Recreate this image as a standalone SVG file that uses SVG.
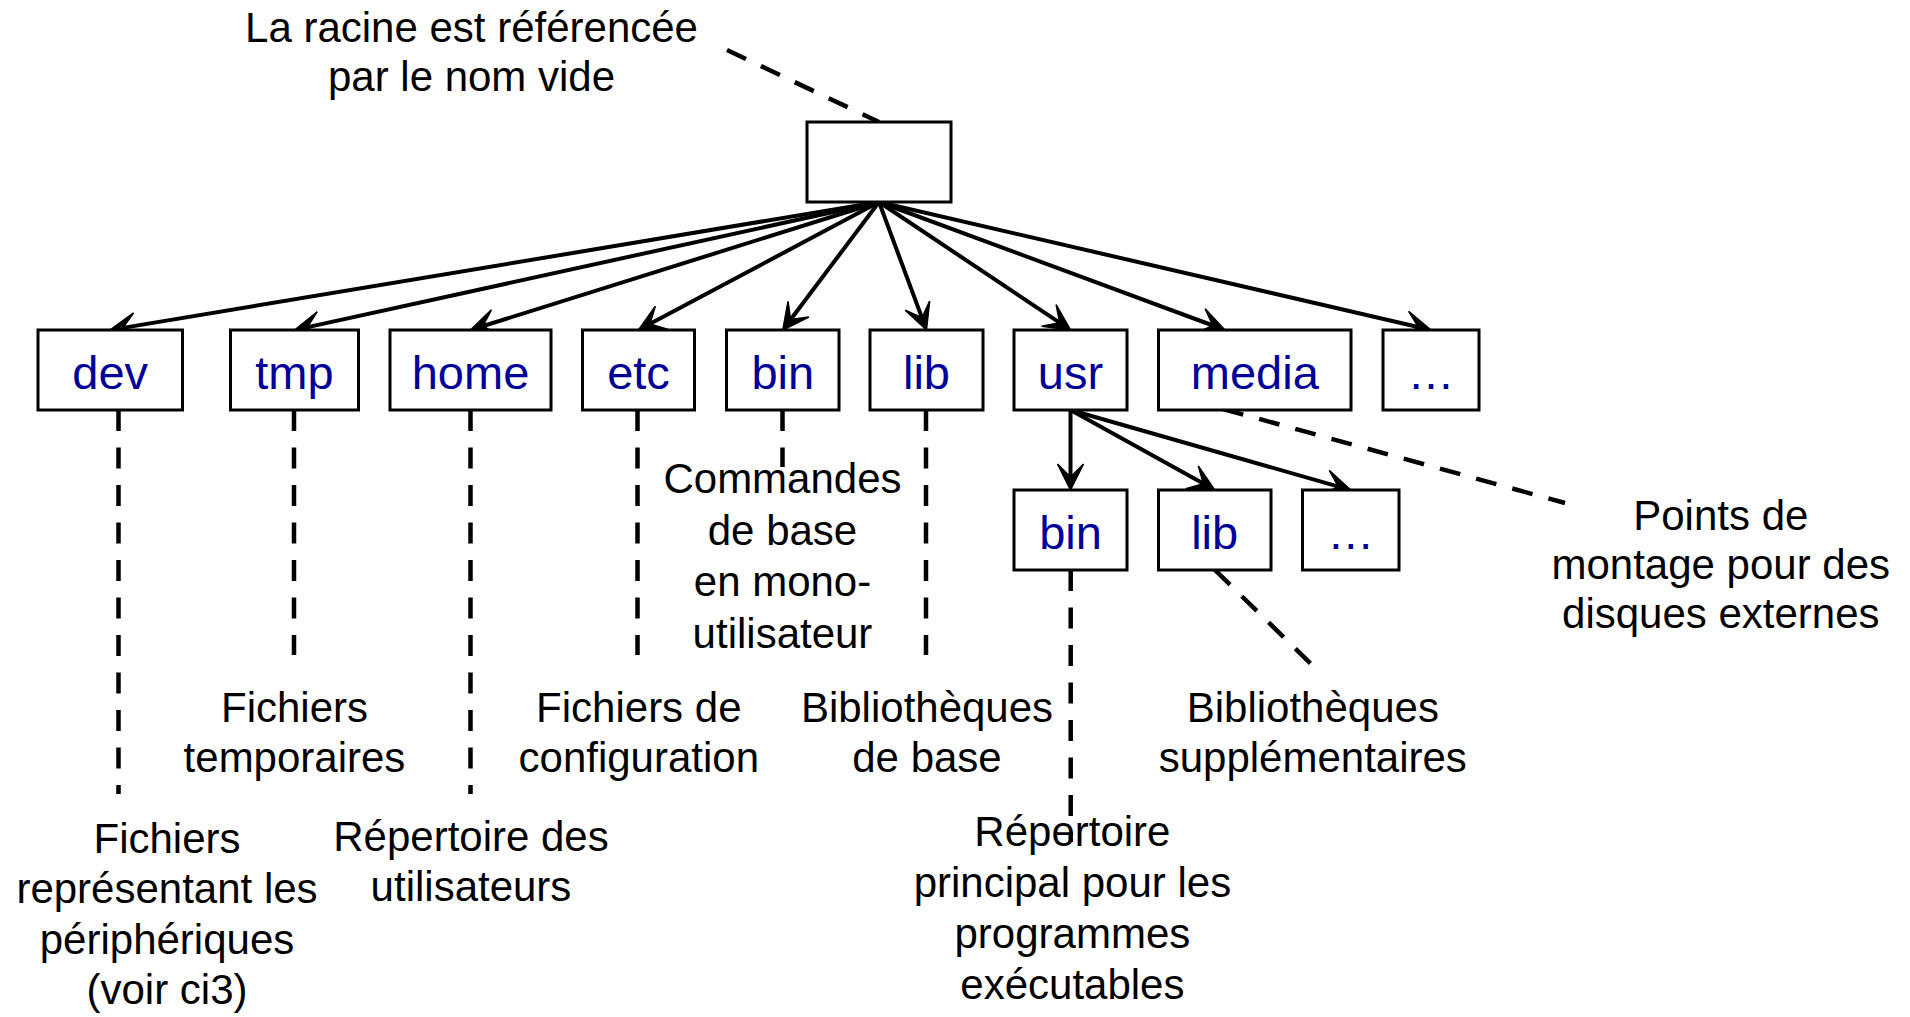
<svg xmlns="http://www.w3.org/2000/svg" width="1910" height="1017" viewBox="0 0 1910 1017">
  <style>
    .box { fill: #fff; stroke: #000; stroke-width: 3; }
    .name { font-family: "Liberation Sans", Arial, sans-serif; font-size: 47px; fill: #000099; text-anchor: middle; }
    .note { font-family: "Liberation Sans", Arial, sans-serif; font-size: 42px; fill: #000; text-anchor: middle; }
    .edge { stroke: #000; stroke-width: 4; fill: none; marker-end: url(#arrow); }
    .dash { stroke: #000; stroke-width: 4.5; fill: none; stroke-dasharray: 21 16.5; }
  </style>
  <defs>
    <marker id="arrow" viewBox="-38 -16 40 32" markerWidth="40" markerHeight="32" refX="-10" refY="0" orient="auto" markerUnits="userSpaceOnUse">
      <path d="M0,0 L-26,-13 L-13,0 L-26,13 Z" fill="#000" stroke="#000" stroke-width="1.5" stroke-linejoin="miter"/>
    </marker>
  </defs>

  <rect width="1910" height="1017" fill="#fff"/>

  <!-- connectors: tree edges and dashed annotation leaders -->
  <g id="connectors">
    <line class="edge" x1="879" y1="202" x2="119.9" y2="328.4"/>
    <line class="edge" x1="879" y1="202" x2="304.3" y2="327.9"/>
    <line class="edge" x1="879" y1="202" x2="480.0" y2="327.0"/>
    <line class="edge" x1="879" y1="202" x2="647.3" y2="325.3"/>
    <line class="edge" x1="879" y1="202" x2="788.8" y2="322.0"/>
    <line class="edge" x1="879" y1="202" x2="923.0" y2="320.6"/>
    <line class="edge" x1="879" y1="202" x2="1062.2" y2="324.4"/>
    <line class="edge" x1="879" y1="202" x2="1215.6" y2="326.5"/>
    <line class="edge" x1="879" y1="202" x2="1421.3" y2="327.7"/>

    <line class="edge" x1="1070.5" y1="410" x2="1070.5" y2="480"/>
    <line class="edge" x1="1070.5" y1="410" x2="1206.0" y2="485.1"/>
    <line class="edge" x1="1070.5" y1="410" x2="1341.1" y2="487.3"/>

    <line class="dash" x1="727" y1="50" x2="879" y2="122"/>
    <line class="dash" x1="118.5" y1="410" x2="118.5" y2="794"/>
    <line class="dash" x1="294" y1="410" x2="294" y2="655"/>
    <line class="dash" x1="470.5" y1="410" x2="470.5" y2="794"/>
    <line class="dash" x1="637.5" y1="410" x2="637.5" y2="655"/>
    <line class="dash" x1="782.5" y1="410" x2="782.5" y2="467"/>
    <line class="dash" x1="926" y1="410" x2="926" y2="655"/>
    <line class="dash" x1="1070.7" y1="570" x2="1070.7" y2="842"/>
    <line class="dash" x1="1223" y1="409" x2="1565" y2="503"/>
    <line class="dash" x1="1215" y1="570" x2="1311" y2="664"/>
  </g>

  <!-- root directory (empty name) -->
  <g id="root">
    <rect class="box" x="807" y="122" width="144" height="80"/>
  </g>

  <!-- first level directories -->
  <g id="dev">
    <rect class="box" x="38" y="330" width="144.5" height="80"/>
    <text class="name" x="110.2" y="389">dev</text>
  </g>
  <g id="tmp">
    <rect class="box" x="230.5" y="330" width="128" height="80"/>
    <text class="name" x="294.5" y="389">tmp</text>
  </g>
  <g id="home">
    <rect class="box" x="390" y="330" width="161" height="80"/>
    <text class="name" x="470.5" y="389">home</text>
  </g>
  <g id="etc">
    <rect class="box" x="582.5" y="330" width="112" height="80"/>
    <text class="name" x="638.5" y="389">etc</text>
  </g>
  <g id="bin">
    <rect class="box" x="726.5" y="330" width="112.5" height="80"/>
    <text class="name" x="782.8" y="389">bin</text>
  </g>
  <g id="lib">
    <rect class="box" x="870" y="330" width="113" height="80"/>
    <text class="name" x="926.5" y="389">lib</text>
  </g>
  <g id="usr">
    <rect class="box" x="1014" y="330" width="113" height="80"/>
    <text class="name" x="1070.5" y="389">usr</text>
  </g>
  <g id="media">
    <rect class="box" x="1158.5" y="330" width="192.5" height="80"/>
    <text class="name" x="1254.8" y="389">media</text>
  </g>
  <g id="more">
    <rect class="box" x="1383" y="330" width="96" height="80"/>
    <text class="name" x="1431" y="389">…</text>
  </g>

  <!-- second level under usr -->
  <g id="usr-bin">
    <rect class="box" x="1014" y="490" width="113" height="80"/>
    <text class="name" x="1070.5" y="549">bin</text>
  </g>
  <g id="usr-lib">
    <rect class="box" x="1158.5" y="490" width="112.5" height="80"/>
    <text class="name" x="1214.7" y="549">lib</text>
  </g>
  <g id="usr-more">
    <rect class="box" x="1302.5" y="490" width="96.5" height="80"/>
    <text class="name" x="1350.7" y="549">…</text>
  </g>

  <!-- annotations -->
  <g id="note-root">
    <text class="note" x="471.5" y="42">La racine est référencée</text>
    <text class="note" x="471.5" y="91">par le nom vide</text>
  </g>
  <g id="note-dev">
    <text class="note" x="167" y="852.5">Fichiers</text>
    <text class="note" x="167" y="903">représentant les</text>
    <text class="note" x="167" y="953.5">périphériques</text>
    <text class="note" x="167" y="1004">(voir ci3)</text>
  </g>
  <g id="note-tmp">
    <text class="note" x="294.5" y="721.5">Fichiers</text>
    <text class="note" x="294.5" y="771.5">temporaires</text>
  </g>
  <g id="note-home">
    <text class="note" x="471" y="850.5">Répertoire des</text>
    <text class="note" x="471" y="900.5">utilisateurs</text>
  </g>
  <g id="note-etc">
    <text class="note" x="638.8" y="722">Fichiers de</text>
    <text class="note" x="638.8" y="772">configuration</text>
  </g>
  <g id="note-bin">
    <text class="note" x="782.5" y="493">Commandes</text>
    <text class="note" x="782.5" y="544.5">de base</text>
    <text class="note" x="782.5" y="596">en mono-</text>
    <text class="note" x="782.5" y="647.5">utilisateur</text>
  </g>
  <g id="note-lib">
    <text class="note" x="927" y="722">Bibliothèques</text>
    <text class="note" x="927" y="772">de base</text>
  </g>
  <g id="note-usr-bin">
    <text class="note" x="1072.4" y="846">Répertoire</text>
    <text class="note" x="1072.4" y="897">principal pour les</text>
    <text class="note" x="1072.4" y="948">programmes</text>
    <text class="note" x="1072.4" y="999">exécutables</text>
  </g>
  <g id="note-usr-lib">
    <text class="note" x="1312.8" y="722">Bibliothèques</text>
    <text class="note" x="1312.8" y="772">supplémentaires</text>
  </g>
  <g id="note-media">
    <text class="note" x="1720.8" y="530">Points de</text>
    <text class="note" x="1720.8" y="579">montage pour des</text>
    <text class="note" x="1720.8" y="628">disques externes</text>
  </g>
</svg>
